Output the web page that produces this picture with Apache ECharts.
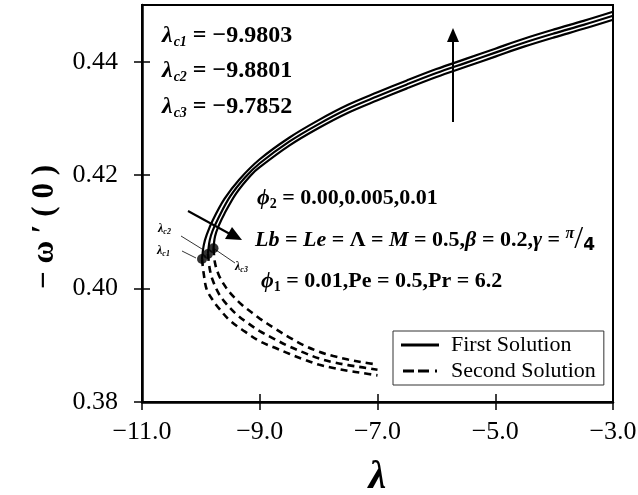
<!DOCTYPE html>
<html>
<head>
<meta charset="utf-8">
<script src="https://cdn.jsdelivr.net/npm/echarts@6/dist/echarts.min.js"></script>
<style>
  html, body { margin: 0; padding: 0; background: #fff; }
  #chart { width: 638px; height: 495px; }
</style>
</head>
<body>
<div id="chart"></div>
<script>
// Axis ticks
const xTicks = [-11, -9, -7, -5, -3];
const yTicks = [0.38, 0.40, 0.42, 0.44];

// Critical (turning) points for phi2 = 0.00, 0.005, 0.01
const critLambda = [-9.9803, -9.8801, -9.7852];
const critOmega = [0.4052, 0.4061, 0.4071];

// First solution (upper branch)
const first1Lambda = [-9.9803, -9.95, -9.90, -9.80, -9.60, -9.35, -9.00, -8.50, -8.00, -7.50, -7.00, -6.50, -6.00, -5.50, -5.00, -4.50, -4.00, -3.50, -3.00];
const first1Omega  = [0.4052, 0.4077, 0.4095, 0.4120, 0.4158, 0.4192, 0.4228, 0.4266, 0.4297, 0.4324, 0.4346, 0.4367, 0.4387, 0.4405, 0.4423, 0.4441, 0.4457, 0.4472, 0.4488];

const first2Lambda = [-9.8801, -9.85, -9.80, -9.70, -9.50, -9.25, -9.00, -8.50, -8.00, -7.50, -7.00, -6.50, -6.00, -5.50, -5.00, -4.50, -4.00, -3.50, -3.00];
const first2Omega  = [0.4061, 0.4085, 0.4102, 0.4125, 0.4163, 0.4196, 0.4221, 0.4259, 0.4290, 0.4317, 0.4339, 0.4360, 0.4380, 0.4398, 0.4416, 0.4434, 0.4450, 0.4465, 0.4481];

const first3Lambda = [-9.7852, -9.76, -9.70, -9.60, -9.40, -9.15, -9.00, -8.50, -8.00, -7.50, -7.00, -6.50, -6.00, -5.50, -5.00, -4.50, -4.00, -3.50, -3.00];
const first3Omega  = [0.4071, 0.4092, 0.4110, 0.4132, 0.4168, 0.4200, 0.4214, 0.4252, 0.4283, 0.4310, 0.4332, 0.4353, 0.4373, 0.4391, 0.4409, 0.4427, 0.4443, 0.4458, 0.4474];

// Second solution (lower branch)
const second1Lambda = [-9.9803, -9.95, -9.90, -9.80, -9.70, -9.50, -9.25, -9.00, -8.75, -8.50, -8.25, -8.00, -7.75, -7.50, -7.25, -7.00];
const second1Omega  = [0.4052, 0.4025, 0.3998, 0.3980, 0.3966, 0.3943, 0.3924, 0.3907, 0.3896, 0.3885, 0.3875, 0.3866, 0.3860, 0.3855, 0.3851, 0.3847];

const second2Lambda = [-9.8801, -9.85, -9.80, -9.70, -9.60, -9.40, -9.20, -9.00, -8.75, -8.50, -8.25, -8.00, -7.75, -7.50, -7.25, -7.00];
const second2Omega  = [0.4061, 0.4035, 0.4015, 0.3992, 0.3977, 0.3955, 0.3939, 0.3925, 0.3911, 0.3898, 0.3887, 0.3877, 0.3870, 0.3865, 0.3861, 0.3857];

const second3Lambda = [-9.7852, -9.76, -9.70, -9.60, -9.50, -9.30, -9.10, -9.00, -8.75, -8.50, -8.25, -8.00, -7.75, -7.50, -7.25, -7.00];
const second3Omega  = [0.4071, 0.4045, 0.4025, 0.4006, 0.3992, 0.3971, 0.3955, 0.3947, 0.3930, 0.3914, 0.3900, 0.3889, 0.3881, 0.3875, 0.3870, 0.3866];

const SERIF = "'Liberation Serif', 'Times New Roman', 'DejaVu Serif', serif";
const pairs = (xs, ys) => xs.map((x, i) => [x, ys[i]]);
const minus = v => (v < 0 ? '\u2212' + Math.abs(v).toFixed(1) : v.toFixed(1));

const solidLine = (xs, ys) => ({
  name: 'First Solution', type: 'line', xAxisIndex: 0, yAxisIndex: 0,
  data: pairs(xs, ys), symbol: 'none', smooth: 0.35, silent: true,
  itemStyle: { color: '#000' },
  lineStyle: { color: '#000', width: 2.2 }
});
const dashedLine = (xs, ys) => ({
  name: 'Second Solution', type: 'line', xAxisIndex: 0, yAxisIndex: 0,
  data: pairs(xs, ys), symbol: 'none', smooth: 0.35, silent: true,
  itemStyle: { color: '#000' },
  lineStyle: { color: '#000', width: 2.6, type: [7, 5] }
});

const tickCommon = { lineStyle: { color: '#000', width: 1.5 }, length: 8 };

const rich = {
  b:   { fontFamily: SERIF, fontWeight: 'bold', fontSize: 22, color: '#000' },
  bi:  { fontFamily: SERIF, fontWeight: 'bold', fontStyle: 'italic', fontSize: 22, color: '#000' },
  B:   { fontFamily: SERIF, fontWeight: 'bold', fontSize: 24, color: '#000' },
  BI:  { fontFamily: SERIF, fontWeight: 'bold', fontStyle: 'italic', fontSize: 24, color: '#000' },
  sub: { fontFamily: SERIF, fontWeight: 'bold', fontStyle: 'italic', fontSize: 14, color: '#000', padding: [12, 0, 0, 1] },
  subn:{ fontFamily: SERIF, fontWeight: 'bold', fontSize: 14, color: '#000', padding: [12, 0, 0, 0] },
  sup: { fontFamily: SERIF, fontWeight: 'bold', fontStyle: 'italic', fontSize: 16, color: '#000', padding: [0, 0, 12, 0] },
  sl:  { fontFamily: SERIF, fontSize: 32, color: '#000' },
  den: { fontFamily: "'DejaVu Sans', sans-serif", fontWeight: 'bold', fontSize: 17, color: '#000', padding: [12, 0, 0, 0] },
  s:   { fontFamily: SERIF, fontWeight: 'bold', fontStyle: 'italic', fontSize: 12, color: '#000' },
  ss:  { fontFamily: SERIF, fontWeight: 'bold', fontStyle: 'italic', fontSize: 8, color: '#000', padding: [6, 0, 0, 0] }
};

const label = (x, y, text) => ({
  type: 'text', x: x, y: y, silent: true,
  style: { text: text, rich: rich, verticalAlign: 'middle', align: 'left' }
});
const seg = (x1, y1, x2, y2, w) => ({
  type: 'line', silent: true,
  shape: { x1: x1, y1: y1, x2: x2, y2: y2 },
  style: { stroke: '#000', lineWidth: w }
});
const head = pts => ({
  type: 'polygon', silent: true, shape: { points: pts }, style: { fill: '#000' }
});

const chart = echarts.init(document.getElementById('chart'), null, { renderer: 'canvas' });
chart.setOption({
  animation: false,
  backgroundColor: '#fff',
  color: ['#000'],
  grid: {
    left: 142, right: 25, top: 5, bottom: 93, outerBoundsMode: 'none', containLabel: false,
    show: true, borderColor: '#000', borderWidth: 2, backgroundColor: 'transparent'
  },
  legend: {
    data: [
      { name: 'First Solution', icon: 'path://M0,0H38V3H0Z' },
      { name: 'Second Solution', icon: 'path://M0,0H11V3H0ZM15,0H26V3H15ZM32,0H34V3H32Z' }
    ],
    orient: 'vertical', left: 393, top: 331,
    itemWidth: 38, itemHeight: 3, itemGap: 4,
    padding: [3, 8, 3, 8],
    borderColor: '#333', borderWidth: 1, backgroundColor: '#fff',
    selectedMode: false,
    itemStyle: { color: '#000' },
    textStyle: { fontFamily: SERIF, fontSize: 22, color: '#000', padding: [0, 0, 0, 7] }
  },
  xAxis: [
    {
      type: 'value', min: -11, max: -3, position: 'bottom',
      axisLine: { lineStyle: { color: '#000', width: 2.5 } },
      axisTick: Object.assign({ customValues: xTicks, inside: false }, tickCommon),
      axisLabel: { customValues: xTicks, formatter: minus, fontFamily: SERIF, fontSize: 26, color: '#000', margin: 17 },
      splitLine: { show: false },
      name: 'λ', nameLocation: 'middle', nameGap: 56,
      nameTextStyle: { fontFamily: SERIF, fontSize: 40, fontStyle: 'italic', fontWeight: 'bold', color: '#000' }
    },
    {
      type: 'value', min: -11, max: -3, position: 'bottom',
      axisLine: { show: false },
      axisTick: Object.assign({ customValues: xTicks, inside: true }, tickCommon),
      axisLabel: { show: false }, splitLine: { show: false }
    }
  ],
  yAxis: [
    {
      type: 'value', min: 0.38, max: 0.45, position: 'left',
      axisLine: { show: true, lineStyle: { color: '#000', width: 2.5 } },
      axisTick: Object.assign({ show: true, customValues: yTicks, inside: false }, tickCommon),
      axisLabel: { customValues: yTicks, formatter: v => v.toFixed(2), fontFamily: SERIF, fontSize: 26, color: '#000', margin: 24 },
      splitLine: { show: false }
    },
    {
      type: 'value', min: 0.38, max: 0.45, position: 'left',
      axisLine: { show: false },
      axisTick: Object.assign({ show: true, customValues: yTicks, inside: true }, tickCommon),
      axisLabel: { show: false }, splitLine: { show: false }
    }
  ],
  series: [
    solidLine(first1Lambda, first1Omega),
    solidLine(first2Lambda, first2Omega),
    solidLine(first3Lambda, first3Omega),
    dashedLine(second1Lambda, second1Omega),
    dashedLine(second2Lambda, second2Omega),
    dashedLine(second3Lambda, second3Omega),
    {
      name: 'Critical points', type: 'scatter', xAxisIndex: 0, yAxisIndex: 0,
      data: pairs(critLambda, critOmega), symbol: 'circle', symbolSize: 10, silent: true,
      itemStyle: { color: '#000' }, z: 5
    }
  ],
  graphic: [
    // y-axis title
    {
      type: 'text', x: 45, y: 227, rotation: Math.PI / 2, silent: true,
      style: {
        text: '\u2212 ω \u2032 ( 0 )', fontFamily: SERIF, fontSize: 31, fontWeight: 'bold',
        fill: '#000', align: 'center', verticalAlign: 'middle'
      }
    },
    label(162, 36, '{BI|λ}{sub|c1}{B| = \u22129.9803}'),
    label(162, 71, '{BI|λ}{sub|c2}{B| = \u22129.8801}'),
    label(162, 107, '{BI|λ}{sub|c3}{B| = \u22129.7852}'),
    label(257, 198, '{bi|ϕ}{subn|2}{b| = 0.00,0.005,0.01}'),
    label(255, 240, '{bi|Lb}{b| = }{bi|Le}{b| = Λ = }{bi|M}{b| = 0.5,}{bi|β}{b| = 0.2,}{bi|γ}{b| = }{sup|π}{sl|/}{den|4}'),
    label(261, 281, '{bi|ϕ}{subn|1}{b| = 0.01,Pe = 0.5,Pr = 6.2}'),
    // turning-point tags
    label(158, 229, '{s|λ}{ss|c2}'),
    label(157, 251, '{s|λ}{ss|c1}'),
    label(235, 267, '{s|λ}{ss|c3}'),
    seg(181, 236, 202, 249, 0.8),
    seg(182, 251, 196, 258, 0.8),
    seg(213, 248, 235, 263, 0.8),
    // direction arrows
    seg(453, 122, 453, 40, 2),
    head([[447, 42], [459, 42], [453, 28]]),
    seg(188, 211, 230, 234, 2),
    head([[225, 239], [232, 227], [242, 240]])
  ]
});
</script>
</body>
</html>
